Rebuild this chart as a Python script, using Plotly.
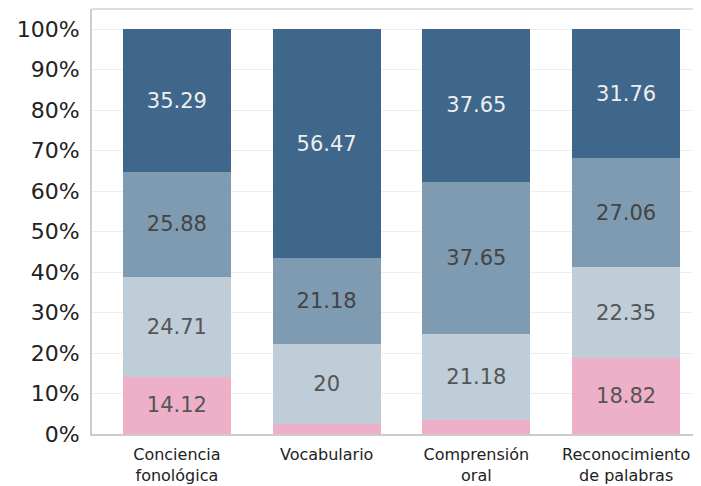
import plotly.graph_objects as go

categories = ["Conciencia<br>fonológica", "Vocabulario", "Comprensión<br>oral", "Reconocimiento<br>de palabras"]
s1 = [14.12, 2.35, 3.53, 18.82]
s2 = [24.71, 20, 21.18, 22.35]
s3 = [25.88, 21.18, 37.65, 27.06]
s4 = [35.29, 56.47, 37.65, 31.76]
series = [s1, s2, s3, s4]
colors = ["#eeafc8", "#bfcdd9", "#7f9bb2", "#3e678b"]
text_colors = ["#555555", "#555555", "#444444", "#eeeeee"]

def fmt(v):
    return ("%g" % v) if v >= 5 else ""

fig = go.Figure()
x = list(range(len(categories)))
for vals, c, tc in zip(series, colors, text_colors):
    fig.add_trace(go.Bar(
        x=x, y=vals, marker=dict(color=c, line=dict(width=0)),
        width=0.72,
        text=[fmt(v) for v in vals], textposition="inside", insidetextanchor="middle",
        textfont=dict(family="DejaVu Sans", size=21, color=tc),
        textangle=0, hoverinfo="skip", showlegend=False,
    ))

# page body has an 8px margin: figure is sized/offset to compensate
fig.update_layout(
    barmode="stack",
    width=693, height=478,
    margin=dict(l=84, r=0, t=1, b=52, autoexpand=False),
    paper_bgcolor="white", plot_bgcolor="white",
    xaxis=dict(
        tickmode="array", tickvals=x, ticktext=categories,
        range=[-0.567, 3.5], showgrid=False, showline=True, linecolor="#cccccc", linewidth=2,
        tickfont=dict(family="DejaVu Sans", size=16, color="#222222"), ticks="",
        automargin=False, ticklabelstandoff=5,
    ),
    yaxis=dict(
        range=[0, 105], tickvals=[0, 10, 20, 30, 40, 50, 60, 70, 80, 90, 100],
        ticktext=["0%", "10%", "20%", "30%", "40%", "50%", "60%", "70%", "80%", "90%", "100%"],
        showgrid=True, gridcolor="#eeeeee", gridwidth=1,
        showline=True, linecolor="#cccccc", linewidth=2, zeroline=False,
        tickfont=dict(family="DejaVu Sans", size=22, color="#222222"), ticks="",
        automargin=False, ticklabelstandoff=6,
    ),
)
fig.add_shape(type="line", xref="paper", yref="paper", x0=0, x1=1, y0=1, y1=1,
              line=dict(color="#dddddd", width=2))
fig.write_html("out.html")
